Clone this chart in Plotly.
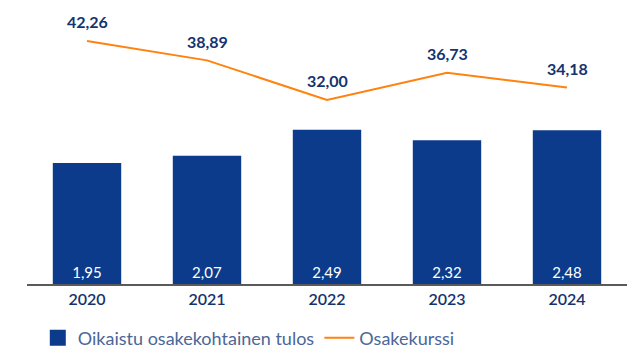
import plotly.graph_objects as go

years = ["2020", "2021", "2022", "2023", "2024"]
eps_adjusted = [1.95, 2.07, 2.49, 2.32, 2.48]
share_price = [42.26, 38.89, 32.00, 36.73, 34.18]

BAR_BLUE = "#0c3b8b"
ORANGE = "#ff8210"
LABEL_BLUE = "#15336f"
LEGEND_TEXT = "#4b6797"
FONT = "Lato"

fig = go.Figure()

fig.add_trace(go.Bar(
    x=years, y=eps_adjusted, name="Oikaistu osakekohtainen tulos",
    marker=dict(color=BAR_BLUE, line=dict(width=0)),
    width=0.57,
    texttemplate="%{y:.2f}", textposition="inside", insidetextanchor="start",
    textfont=dict(family=FONT, size=15, color="white"),
    yaxis="y", showlegend=False,
))

# legend entry with a larger square swatch for the bars
fig.add_trace(go.Scatter(
    x=[None], y=[None], mode="markers", name="Oikaistu osakekohtainen tulos",
    marker=dict(symbol="square", size=19, color=BAR_BLUE),
))

fig.add_trace(go.Scatter(
    x=years, y=share_price, name="Osakekurssi", mode="lines",
    line=dict(color=ORANGE, width=2),
    yaxis="y2",
))

for i, v in enumerate(share_price):
    fig.add_annotation(
        x=i, y=v, xref="x", yref="y2",
        text="<b>" + f"{v:.2f}".replace(".", ",") + "</b>",
        showarrow=False, yshift=19,
        font=dict(family=FONT, size=16, color=LABEL_BLUE),
    )

fig.update_layout(
    width=637, height=354,
    margin=dict(l=27, r=10, t=10, b=70, autoexpand=False),
    paper_bgcolor="white", plot_bgcolor="white",
    separators=", ",
    font=dict(family=FONT, color=LABEL_BLUE),
    showlegend=True,
    legend=dict(
        orientation="h", x=0.018, y=0.045, xanchor="left", yanchor="middle",
        yref="container",
        font=dict(family=FONT, size=18, color=LEGEND_TEXT),
        itemsizing="trace",
    ),
    xaxis=dict(
        type="category",
        range=[-0.5, 4.5], showgrid=False, zeroline=False,
        showline=True, linecolor="#5a5a5a", linewidth=1.5,
        ticks="", tickfont=dict(family=FONT, size=16, color=LABEL_BLUE, weight=600),
    ),
    yaxis=dict(range=[0, 4.42], visible=False, showgrid=False),
    yaxis2=dict(range=[0, 47.65], overlaying="y", visible=False, showgrid=False),
)

fig.write_html("out.html")
